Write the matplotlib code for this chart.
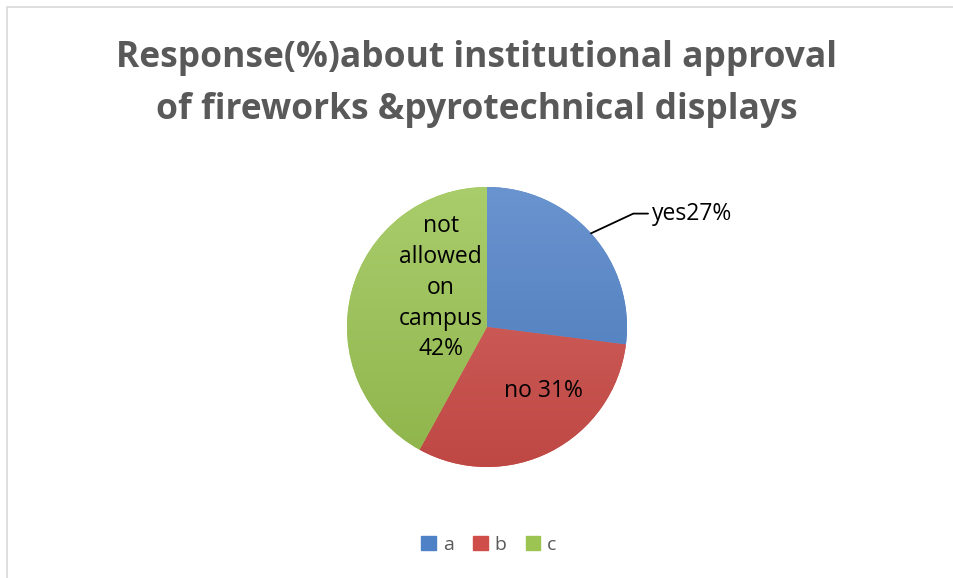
import numpy as np
import matplotlib.pyplot as plt
from matplotlib.patches import Rectangle
from matplotlib.colors import to_rgb

# chart data
labels = ["yes27%", "no 31%", "not\nallowed\non\ncampus\n42%"]
legend_names = ["a", "b", "c"]
values = [27, 31, 42]
colors = ["#4f81c7", "#cf4e4a", "#9bc452"]
title = "Response(%)about institutional approval\nof fireworks &pyrotechnical displays"

W, H = 954, 578
fig = plt.figure(figsize=(W / 100, H / 100), dpi=100)
fig.patch.set_facecolor("white")

# light grey chart frame
fig.patches.append(Rectangle((7 / W, -0.1), 1.2, 1 - 7 / H + 0.1, transform=fig.transFigure,
                             fill=False, edgecolor="#d9d9d9", lw=1.2))

fig.text(0.5, 1 - 84 / H, title, ha="center", va="center", fontsize=25.5,
         fontweight="bold", color="#595959", family="Open Sans", linespacing=1.6)

# pie axes: centre (487, 327) px, radius 140 px
cx, cy, r = 487, 327, 140
ax = fig.add_axes([(cx - r) / W, 1 - (cy + r) / H, 2 * r / W, 2 * r / H])
wedges, _ = ax.pie(values, colors=colors, startangle=90, counterclock=False,
                   wedgeprops=dict(edgecolor="none"))
ax.set_xlim(-1, 1)
ax.set_ylim(-1, 1)
ax.set_aspect("auto")
ax.axis("off")

# soft vertical shading like the office gradient
for w, c in zip(wedges, colors):
    base = np.array(to_rgb(c))
    t = np.linspace(0, 1, 200)[:, None]
    light = base + (1 - base) * 0.15
    dark = base * 0.92
    grad = (dark[None, :] * (1 - t) + light[None, :] * t)
    img = np.repeat(grad[:, None, :], 2, axis=1)
    im = ax.imshow(img, extent=[-1, 1, -1, 1], origin="lower", aspect="auto", zorder=1)
    im.set_clip_path(w)
    w.set_zorder(0)

# data labels
fs = 16.5
ax.annotate(labels[0], xy=(np.cos(np.radians(42)), np.sin(np.radians(42))),
            xytext=(1.18, 0.81), ha="left", va="center", fontsize=fs,
            family="Open Sans", color="black",
            arrowprops=dict(arrowstyle="-", color="black", lw=1.3,
                            connectionstyle="angle,angleA=0,angleB=25,rad=0",
                            shrinkA=1, shrinkB=0))
ax.text(0.40, -0.46, labels[1], ha="center", va="center", fontsize=fs,
        family="Open Sans", zorder=3)
ax.text(-0.33, 0.28, labels[2], ha="center", va="center", fontsize=fs,
        family="Open Sans", linespacing=1.38, zorder=3)

# legend
handles = [Rectangle((0, 0), 1, 1, facecolor=c, edgecolor=c) for c in colors]
fig.legend(handles, legend_names, loc="center", bbox_to_anchor=(489 / W, 1 - 545 / H),
           ncol=3, frameon=False, handlelength=0.75, handleheight=0.75,
           handletextpad=0.35, columnspacing=1.0, labelcolor="#595959",
           prop=dict(family="Open Sans", size=14))

fig.savefig("out.png", dpi=100)
